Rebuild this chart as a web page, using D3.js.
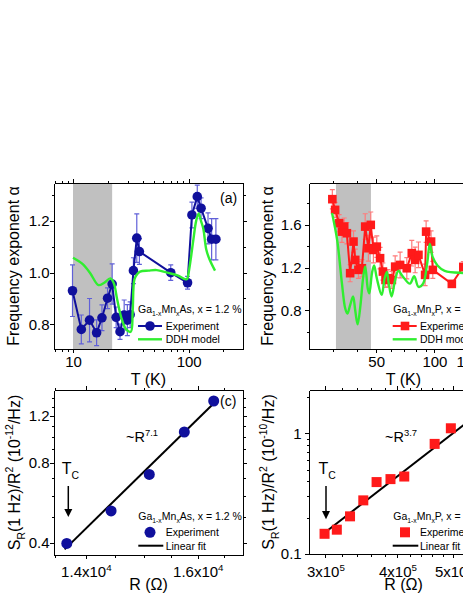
<!DOCTYPE html>
<meta charset="utf-8">
<style>
    body { margin: 0; background: #fff; }
    svg { font-family: "Liberation Sans", Arial, sans-serif; }
    .axis path, .axis line { stroke: #000; stroke-width: 1; shape-rendering: crispEdges; }
    .axis text { font-size: 15px; fill: #000; font-family: "Liberation Sans", Arial, sans-serif; }
</style>
<body>
<script src="https://d3js.org/d3.v7.min.js"></script>
<script>

// (a) Ga1-xMnxAs : frequency exponent vs T
var tA = [9.9, 11.8, 13.9, 16.0, 17.8, 19.9, 21.8, 23.6, 25.5, 27.7, 29.5, 31.2, 33.3, 35.6, 37.5, 70, 97.8, 106.7, 118.7, 128, 147, 158, 172];
var alphaA = [0.930, 0.780, 0.816, 0.767, 0.825, 0.901, 0.956, 0.827, 0.771, 0.836, 0.816, 0.837, 1.008, 1.134, 1.082, 1.0, 0.961, 1.224, 1.295, 1.250, 1.172, 1.130, 1.130];
var errA = [0.10, 0.056, 0.084, 0.05, 0.05, 0.04, 0.078, 0.04, 0.03, 0.058, 0.06, 0.05, 0.05, 0.094, 0.05, 0.03, 0.025, 0.05, 0.045, 0.04, 0.06, 0.08, 0.08];
var ddhTA = [10, 12, 14, 16.6, 18.5, 21, 22.5, 24, 26, 28.8, 31.6, 32.8, 34, 36, 38, 45, 53, 65, 80, 93, 97, 99, 104, 110, 116, 122, 128, 134, 142, 152, 169];
var ddhA = [1.058, 1.035, 1.0, 0.952, 0.96, 0.978, 0.96, 0.9, 0.83, 0.78, 0.771, 0.85, 0.975, 0.995, 1.004, 1.008, 1.01, 1.0, 0.99, 0.975, 0.975, 0.99, 1.05, 1.13, 1.2, 1.23, 1.2, 1.17, 1.09, 1.05, 1.008];
var shadeA = [10, 21.8];

// (b) Ga1-xMnxP : frequency exponent vs T
var tB = [29.7, 30.7, 32.2, 33.3, 34.2, 35.3, 36.7, 38.2, 39.0, 40.5, 42.2, 43.9, 45.6, 46.9, 48.4, 50.4, 52.4, 54.2, 55.9, 57.5, 60.3, 62.7, 66.5, 72, 76.4, 79.5, 82.7, 89.5, 90.6, 96.1, 98.1, 123, 141];
var alphaB = [1.839, 1.739, 1.615, 1.536, 1.583, 1.521, 1.148, 1.443, 1.272, 1.179, 1.194, 1.583, 1.381, 1.599, 1.365, 1.396, 1.288, 1.163, 1.085, 1.101, 1.085, 1.209, 1.225, 1.194, 1.335, 1.272, 1.319, 1.132, 1.536, 1.443, 1.179, 1.048, 1.207];
var errB = [0.09, 0.07, 0.08, 0.1, 0.08, 0.1, 0.08, 0.1, 0.1, 0.08, 0.08, 0.12, 0.12, 0.12, 0.12, 0.1, 0.1, 0.08, 0.07, 0.08, 0.08, 0.1, 0.12, 0.1, 0.12, 0.12, 0.12, 0.1, 0.1, 0.1, 0.08, 0.02, 0.05];
var ddhTB = [29.6, 31.5, 33.3, 34.6, 35.5, 36.7, 38.0, 39.0, 40.1, 41.5, 42.8, 43.9, 45.3, 46.1, 47.6, 48.8, 50.4, 53.4, 55.3, 56.8, 58.1, 60.1, 62.6, 65.1, 68.5, 74.7, 78.6, 82.7, 87.4, 91.9, 94.6, 97.9, 103.7, 113, 141, 170];
var ddhB = [1.71, 1.45, 1.05, 0.82, 0.77, 0.85, 0.93, 0.80, 0.67, 0.85, 1.1, 1.21, 1.0, 0.96, 1.15, 1.22, 1.1, 0.945, 1.1, 1.16, 1.05, 0.93, 1.08, 1.17, 1.12, 1.05, 1.12, 1.02, 1.05, 1.25, 1.42, 1.3, 1.22, 1.17, 1.15, 1.15];
var shadeB = [31, 47];

// (c) noise vs resistance, GaMnAs
var rC = [13685, 14428, 15101, 15745, 16307];
var sC = [0.398, 0.527, 0.723, 1.043, 1.364];
var fitC = { k: 7.1, r0: 13650, s0: 0.378, rEnd: 16370 };

// (d) noise vs resistance, GaMnP
var rD = [2.99e5, 3.14e5, 3.31e5, 3.49e5, 3.68e5, 3.89e5, 4.11e5, 4.64e5, 4.95e5];
var sD = [0.147, 0.159, 0.205, 0.278, 0.394, 0.417, 0.438, 0.816, 1.099];
var fitD = { k: 3.7, r0: 2.98e5, s0: 0.148, rEnd: 6.0e5 };

var navy = "#10109c", navyErr = "#6060d8", red = "#ff1a1a", redErr = "#ff7a7a", green = "#30ee30";

var svg = d3.select("body").append("svg")
    .attr("width", 463)
    .attr("height", 599);
svg.append("rect").attr("width", 463).attr("height", 599).attr("fill", "#fff");

// rich text with sub/superscripts: parts = [[text, "sub"|"sup"|null], ...]
function rich(t, parts, fs) {
    var cur = 0;
    parts.forEach(function (p) {
        var target = p[1] == "sub" ? fs * 0.3 : p[1] == "sup" ? -fs * 0.42 : 0;
        var s = t.append("tspan").text(p[0]);
        if (target - cur != 0) s.attr("dy", target - cur);
        if (p[1]) s.attr("font-size", fs * 0.65);
        cur = target;
    });
    return t;
}

function label(x, y, parts, fs, rot) {
    var t = svg.append("text")
        .attr("font-size", fs)
        .attr("fill", "#000");
    if (rot) t.attr("transform", "translate(" + x + "," + y + ") rotate(-90)").attr("text-anchor", "middle");
    else t.attr("x", x).attr("y", y);
    return rich(t, parts, fs);
}

function axes(box, x, y, o) {
    var L = box.x, T = box.y, R = box.x + box.w, B = box.y + box.h;
    var defs = [
        [d3.axisBottom(x), o.xMajor, o.xMinor, "translate(0," + B + ")", o.xFmt, o.xPad],
        [d3.axisTop(x), o.xMajor, o.xMinor, "translate(0," + T + ")", null, 3],
        [d3.axisLeft(y), o.yMajor, o.yMinor, "translate(" + L + ",0)", o.yFmt, o.yPad],
        [d3.axisRight(y), o.yMajor, o.yMinor, "translate(" + R + ",0)", null, 3]
    ];
    defs.forEach(function (d) {
        var g = svg.append("g").attr("class", "axis").attr("transform", d[3]);
        g.call(d[0].tickValues(d[1]).tickSize(4).tickSizeOuter(0).tickPadding(d[5])
            .tickFormat(function () { return ""; }));
        if (d[4]) {
            g.selectAll(".tick text").each(function (v) {
                rich(d3.select(this), d[4](v), 15);
            });
        } else {
            g.selectAll(".tick text").remove();
        }
        svg.append("g").attr("class", "axis").attr("transform", d[3])
            .call(d[0].tickValues(d[2]).tickSize(2.5).tickSizeOuter(0).tickFormat(""));
    });
}

function plain(v) { return [[String(v), null]]; }
function fix1(v) { return [[d3.format(".1f")(v), null]]; }
function sci(m, e) { return function (v) { return [[d3.format(m)(v / Math.pow(10, e)) + "x10", null], [String(e), "sup"]]; }; }

function errBars(ts, vals, errs, x, y, col) {
    ts.forEach(function (t, i) {
        var cx = x(t), lo = y(vals[i] - errs[i]), hi = y(vals[i] + errs[i]);
        svg.append("path").attr("stroke", col).attr("stroke-width", 1.2).attr("fill", "none")
            .attr("d", "M" + cx + "," + lo + "V" + hi +
                "M" + (cx - 2.5) + "," + lo + "h5" +
                "M" + (cx - 2.5) + "," + hi + "h5");
    });
}

// ---------- panel (a) ----------
var boxA = { x: 54, y: 183, w: 189, h: 166 };
var xA = d3.scaleLog().domain([6.85, 295]).range([54, 243]);
var yA = d3.scaleLinear().domain([0.704, 1.348]).range([349, 183]);

svg.append("rect").attr("x", xA(shadeA[0])).attr("y", boxA.y)
    .attr("width", xA(shadeA[1]) - xA(shadeA[0])).attr("height", boxA.h).attr("fill", "#c0c0c0");

errBars(tA, alphaA, errA, xA, yA, navyErr);
svg.append("path").datum(tA.map(function (t, i) { return [t, alphaA[i]]; }))
    .attr("fill", "none").attr("stroke", navy).attr("stroke-width", 2)
    .attr("d", d3.line().x(function (d) { return xA(d[0]); }).y(function (d) { return yA(d[1]); }));
svg.selectAll(null).data(tA).enter().append("circle")
    .attr("cx", function (d) { return xA(d); })
    .attr("cy", function (d, i) { return yA(alphaA[i]); })
    .attr("r", 4.8).attr("fill", navy);
svg.append("path").datum(ddhTA.map(function (t, i) { return [t, ddhA[i]]; }))
    .attr("fill", "none").attr("stroke", green).attr("stroke-width", 2.4)
    .attr("d", d3.line().curve(d3.curveCatmullRom.alpha(0.5)).x(function (d) { return xA(d[0]); }).y(function (d) { return yA(d[1]); }));

axes(boxA, xA, yA, {
    xMajor: [10, 100], xMinor: [7, 8, 9, 20, 30, 40, 50, 60, 70, 80, 90, 200], xFmt: plain, xPad: 3.4,
    yMajor: [0.8, 1.0, 1.2], yMinor: [0.9, 1.1, 1.3], yFmt: fix1, yPad: 0.5
});

label(138, 313, [["Ga", null], ["1-x", "sub"], ["Mn", null], ["x", "sub"], ["As, x = 1.2 %", null]], 10.5);
svg.append("line").attr("x1", 138).attr("x2", 162).attr("y1", 326).attr("y2", 326).attr("stroke", navy).attr("stroke-width", 2);
svg.append("circle").attr("cx", 150).attr("cy", 326).attr("r", 4.8).attr("fill", navy);
label(165.7, 330, [["Experiment", null]], 10.5);
svg.append("line").attr("x1", 138).attr("x2", 162).attr("y1", 339.3).attr("y2", 339.3).attr("stroke", green).attr("stroke-width", 2.4);
label(165.7, 343, [["DDH model", null]], 10.5);
label(220, 203, [["(a)", null]], 14);

label(19, 266, [["Frequency exponent α", null]], 16, true);
svg.append("text").attr("x", 148.5).attr("y", 385).attr("text-anchor", "middle").attr("font-size", 16).text("T (K)");

// ---------- panel (b) ----------
var boxB = { x: 309, y: 183, w: 189, h: 166 };
var xB = d3.scaleLog().domain([22.5, 213]).range([309, 498]);
var yB = d3.scaleLinear().domain([0.44, 1.99]).range([349, 183]);

svg.append("rect").attr("x", xB(shadeB[0])).attr("y", boxB.y)
    .attr("width", xB(shadeB[1]) - xB(shadeB[0])).attr("height", boxB.h).attr("fill", "#c0c0c0");

errBars(tB, alphaB, errB, xB, yB, redErr);
svg.append("path").datum(tB.map(function (t, i) { return [t, alphaB[i]]; }))
    .attr("fill", "none").attr("stroke", red).attr("stroke-width", 2)
    .attr("d", d3.line().x(function (d) { return xB(d[0]); }).y(function (d) { return yB(d[1]); }));
svg.selectAll(null).data(tB).enter().append("rect")
    .attr("x", function (d) { return xB(d) - 4.3; })
    .attr("y", function (d, i) { return yB(alphaB[i]) - 4.3; })
    .attr("width", 8.6).attr("height", 8.6).attr("fill", red);
svg.append("path").datum(ddhTB.map(function (t, i) { return [t, ddhB[i]]; }))
    .attr("fill", "none").attr("stroke", green).attr("stroke-width", 2.4)
    .attr("d", d3.line().curve(d3.curveCatmullRom.alpha(0.5)).x(function (d) { return xB(d[0]); }).y(function (d) { return yB(d[1]); }));

axes(boxB, xB, yB, {
    xMajor: [50, 100, 150], xMinor: [30, 40, 60, 70, 80, 90, 200], xFmt: plain, xPad: 3.4,
    yMajor: [0.8, 1.2, 1.6], yMinor: [0.6, 1.0, 1.4, 1.8], yFmt: fix1, yPad: 3.3
});

label(393.3, 312.5, [["Ga", null], ["1-x", "sub"], ["Mn", null], ["x", "sub"], ["P, x = 2.4 %", null]], 10.5);
svg.append("line").attr("x1", 392.7).attr("x2", 416.7).attr("y1", 326).attr("y2", 326).attr("stroke", red).attr("stroke-width", 2);
svg.append("rect").attr("x", 405 - 4.3).attr("y", 326 - 4.3).attr("width", 8.6).attr("height", 8.6).attr("fill", red);
label(420, 330, [["Experiment", null]], 10.5);
svg.append("line").attr("x1", 392.7).attr("x2", 416.7).attr("y1", 339.3).attr("y2", 339.3).attr("stroke", green).attr("stroke-width", 2.4);
label(420, 343, [["DDH model", null]], 10.5);

label(273, 266, [["Frequency exponent α", null]], 16, true);
svg.append("text").attr("x", 403.5).attr("y", 385).attr("text-anchor", "middle").attr("font-size", 16).text("T (K)");

// ---------- panel (c) ----------
var boxC = { x: 54, y: 390, w: 189, h: 165 };
var xC = d3.scaleLog().domain([13478, 16887]).range([54, 243]);
var yC = d3.scaleLog().domain([0.36, 1.5]).range([555, 390]);

svg.append("line")
    .attr("x1", xC(fitC.r0)).attr("y1", yC(fitC.s0))
    .attr("x2", xC(fitC.rEnd)).attr("y2", yC(fitC.s0 * Math.pow(fitC.rEnd / fitC.r0, fitC.k)))
    .attr("stroke", "#000").attr("stroke-width", 2);
svg.selectAll(null).data(rC).enter().append("circle")
    .attr("cx", function (d) { return xC(d); })
    .attr("cy", function (d, i) { return yC(sC[i]); })
    .attr("r", 5.5).attr("fill", navy);

axes(boxC, xC, yC, {
    xMajor: [14000, 16000], xMinor: [13500, 14500, 15000, 15500, 16500], xFmt: sci(".1f", 4), xPad: 7.4,
    yMajor: [0.4, 0.8, 1.2], yMinor: [0.5, 0.6, 0.7, 0.9, 1.0, 1.1, 1.3, 1.4], yFmt: fix1, yPad: 0.5
});

label(138.3, 520, [["Ga", null], ["1-x", "sub"], ["Mn", null], ["x", "sub"], ["As, x = 1.2 %", null]], 10.5);
svg.append("circle").attr("cx", 150).attr("cy", 532.3).attr("r", 5.5).attr("fill", navy);
label(165.7, 536, [["Experiment", null]], 10.5);
svg.append("line").attr("x1", 138.3).attr("x2", 163.3).attr("y1", 545.7).attr("y2", 545.7).attr("stroke", "#000").attr("stroke-width", 2);
label(165.7, 549.5, [["Linear fit", null]], 10.5);
label(220, 406, [["(c)", null]], 14);
label(126, 441.7, [["~R", null], ["7.1", "sup"]], 14.5);
label(61.7, 474.3, [["T", null], ["C", "sub"]], 16);
svg.append("line").attr("x1", 68.3).attr("x2", 68.3).attr("y1", 486).attr("y2", 510).attr("stroke", "#000").attr("stroke-width", 1.5);
svg.append("path").attr("d", "M64.3,509 L72.3,509 L68.3,517 Z").attr("fill", "#000");

label(20, 472.5, [["S", null], ["R", "sub"], ["(1 Hz)/R", null], ["2", "sup"], [" (10", null], ["-12", "sup"], ["/Hz)", null]], 16, true);
svg.append("text").attr("x", 148.5).attr("y", 590).attr("text-anchor", "middle").attr("font-size", 16).text("R (Ω)");

// ---------- panel (d) ----------
var boxD = { x: 309, y: 390, w: 189, h: 164 };
var xD = d3.scaleLog().domain([2.81e5, 5.975e5]).range([309, 498]);
var yD = d3.scaleLog().domain([0.1, 2.28]).range([554, 390]);

svg.append("line")
    .attr("x1", xD(fitD.r0)).attr("y1", yD(fitD.s0))
    .attr("x2", xD(fitD.rEnd)).attr("y2", yD(fitD.s0 * Math.pow(fitD.rEnd / fitD.r0, fitD.k)))
    .attr("stroke", "#000").attr("stroke-width", 2);
svg.selectAll(null).data(rD).enter().append("rect")
    .attr("x", function (d) { return xD(d) - 5; })
    .attr("y", function (d, i) { return yD(sD[i]) - 5; })
    .attr("width", 10).attr("height", 10).attr("fill", red);

axes(boxD, xD, yD, {
    xMajor: [3e5, 4e5, 5e5], xMinor: [3.2e5, 3.4e5, 3.6e5, 3.8e5, 4.2e5, 4.4e5, 4.6e5, 4.8e5], xFmt: sci(".0f", 5), xPad: 8.4,
    yMajor: [0.1, 1], yMinor: [0.2, 0.3, 0.4, 0.5, 0.6, 0.7, 0.8, 0.9, 2], yFmt: plain, yPad: 3.3
});

label(393.3, 520, [["Ga", null], ["1-x", "sub"], ["Mn", null], ["x", "sub"], ["P, x = 2.4 %", null]], 10.5);
svg.append("rect").attr("x", 400).attr("y", 527.3).attr("width", 10).attr("height", 10).attr("fill", red);
label(420, 536, [["Experiment", null]], 10.5);
svg.append("line").attr("x1", 392.7).attr("x2", 418.3).attr("y1", 545.7).attr("y2", 545.7).attr("stroke", "#000").attr("stroke-width", 2);
label(420, 549.5, [["Linear fit", null]], 10.5);
label(385, 441.7, [["~R", null], ["3.7", "sup"]], 14.5);
label(318.5, 474.3, [["T", null], ["C", "sub"]], 16);
svg.append("line").attr("x1", 326).attr("x2", 326).attr("y1", 486).attr("y2", 512).attr("stroke", "#000").attr("stroke-width", 1.5);
svg.append("path").attr("d", "M322,511 L330,511 L326,519.3 Z").attr("fill", "#000");

label(274, 472, [["S", null], ["R", "sub"], ["(1 Hz)/R", null], ["2", "sup"], [" (10", null], ["-10", "sup"], ["/Hz)", null]], 16, true);
svg.append("text").attr("x", 403.5).attr("y", 590).attr("text-anchor", "middle").attr("font-size", 16).text("R (Ω)");

</script>
